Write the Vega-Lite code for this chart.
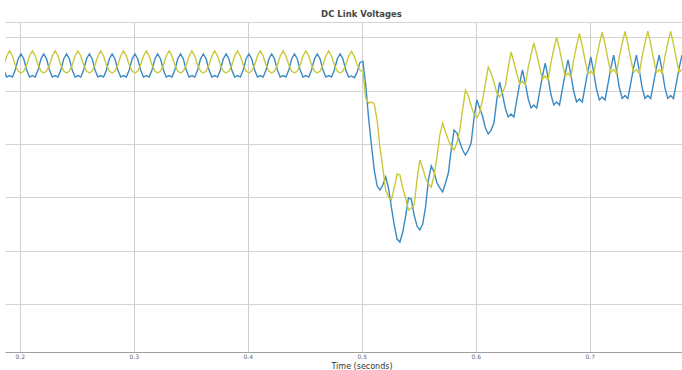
{
"$schema":"https://vega.github.io/schema/vega-lite/v6.json",
"width":677,"height":330,
"autosize":{"type":"none"},
"padding":{"left":5,"top":22,"right":0,"bottom":18},
"background":"white",
"title":{"text":"DC Link Voltages","font":"DejaVu Sans","fontSize":8.5,"fontWeight":"bold","color":"#444444","anchor":"middle","dx":18,"offset":4},
"config":{"view":{"stroke":null}},
"data":{"values":[
{"t":0.186,"Vdc1":669.4,"Vdc2":674.1},{"t":0.1885,"Vdc1":662.8,"Vdc2":682.5},
{"t":0.191,"Vdc1":664.2,"Vdc2":687.2},{"t":0.1935,"Vdc1":662.8,"Vdc2":682.5},{"t":0.196,"Vdc1":669.4,"Vdc2":674.1},{"t":0.1985,"Vdc1":679.7,"Vdc2":668.4},{"t":0.201,"Vdc1":684.4,"Vdc2":666.6},{"t":0.2035,"Vdc1":679.7,"Vdc2":668.4},{"t":0.206,"Vdc1":669.4,"Vdc2":674.1},{"t":0.2085,"Vdc1":662.8,"Vdc2":682.5},
{"t":0.211,"Vdc1":664.2,"Vdc2":687.2},{"t":0.2135,"Vdc1":662.8,"Vdc2":682.5},{"t":0.216,"Vdc1":669.4,"Vdc2":674.1},{"t":0.2185,"Vdc1":679.7,"Vdc2":668.4},{"t":0.221,"Vdc1":684.4,"Vdc2":666.6},{"t":0.2235,"Vdc1":679.7,"Vdc2":668.4},{"t":0.226,"Vdc1":669.4,"Vdc2":674.1},{"t":0.2285,"Vdc1":662.8,"Vdc2":682.5},
{"t":0.231,"Vdc1":664.2,"Vdc2":687.2},{"t":0.2335,"Vdc1":662.8,"Vdc2":682.5},{"t":0.236,"Vdc1":669.4,"Vdc2":674.1},{"t":0.2385,"Vdc1":679.7,"Vdc2":668.4},{"t":0.241,"Vdc1":684.4,"Vdc2":666.6},{"t":0.2435,"Vdc1":679.7,"Vdc2":668.4},{"t":0.246,"Vdc1":669.4,"Vdc2":674.1},{"t":0.2485,"Vdc1":662.8,"Vdc2":682.5},
{"t":0.251,"Vdc1":664.2,"Vdc2":687.2},{"t":0.2535,"Vdc1":662.8,"Vdc2":682.5},{"t":0.256,"Vdc1":669.4,"Vdc2":674.1},{"t":0.2585,"Vdc1":679.7,"Vdc2":668.4},{"t":0.261,"Vdc1":684.4,"Vdc2":666.6},{"t":0.2635,"Vdc1":679.7,"Vdc2":668.4},{"t":0.266,"Vdc1":669.4,"Vdc2":674.1},{"t":0.2685,"Vdc1":662.8,"Vdc2":682.5},
{"t":0.271,"Vdc1":664.2,"Vdc2":687.2},{"t":0.2735,"Vdc1":662.8,"Vdc2":682.5},{"t":0.276,"Vdc1":669.4,"Vdc2":674.1},{"t":0.2785,"Vdc1":679.7,"Vdc2":668.4},{"t":0.281,"Vdc1":684.4,"Vdc2":666.6},{"t":0.2835,"Vdc1":679.7,"Vdc2":668.4},{"t":0.286,"Vdc1":669.4,"Vdc2":674.1},{"t":0.2885,"Vdc1":662.8,"Vdc2":682.5},
{"t":0.291,"Vdc1":664.2,"Vdc2":687.2},{"t":0.2935,"Vdc1":662.8,"Vdc2":682.5},{"t":0.296,"Vdc1":669.4,"Vdc2":674.1},{"t":0.2985,"Vdc1":679.7,"Vdc2":668.4},{"t":0.301,"Vdc1":684.4,"Vdc2":666.6},{"t":0.3035,"Vdc1":679.7,"Vdc2":668.4},{"t":0.306,"Vdc1":669.4,"Vdc2":674.1},{"t":0.3085,"Vdc1":662.8,"Vdc2":682.5},
{"t":0.311,"Vdc1":664.2,"Vdc2":687.2},{"t":0.3135,"Vdc1":662.8,"Vdc2":682.5},{"t":0.316,"Vdc1":669.4,"Vdc2":674.1},{"t":0.3185,"Vdc1":679.7,"Vdc2":668.4},{"t":0.321,"Vdc1":684.4,"Vdc2":666.6},{"t":0.3235,"Vdc1":679.7,"Vdc2":668.4},{"t":0.326,"Vdc1":669.4,"Vdc2":674.1},{"t":0.3285,"Vdc1":662.8,"Vdc2":682.5},
{"t":0.331,"Vdc1":664.2,"Vdc2":687.2},{"t":0.3335,"Vdc1":662.8,"Vdc2":682.5},{"t":0.336,"Vdc1":669.4,"Vdc2":674.1},{"t":0.3385,"Vdc1":679.7,"Vdc2":668.4},{"t":0.341,"Vdc1":684.4,"Vdc2":666.6},{"t":0.3435,"Vdc1":679.7,"Vdc2":668.4},{"t":0.346,"Vdc1":669.4,"Vdc2":674.1},{"t":0.3485,"Vdc1":662.8,"Vdc2":682.5},
{"t":0.351,"Vdc1":664.2,"Vdc2":687.2},{"t":0.3535,"Vdc1":662.8,"Vdc2":682.5},{"t":0.356,"Vdc1":669.4,"Vdc2":674.1},{"t":0.3585,"Vdc1":679.7,"Vdc2":668.4},{"t":0.361,"Vdc1":684.4,"Vdc2":666.6},{"t":0.3635,"Vdc1":679.7,"Vdc2":668.4},{"t":0.366,"Vdc1":669.4,"Vdc2":674.1},{"t":0.3685,"Vdc1":662.8,"Vdc2":682.5},
{"t":0.371,"Vdc1":664.2,"Vdc2":687.2},{"t":0.3735,"Vdc1":662.8,"Vdc2":682.5},{"t":0.376,"Vdc1":669.4,"Vdc2":674.1},{"t":0.3785,"Vdc1":679.7,"Vdc2":668.4},{"t":0.381,"Vdc1":684.4,"Vdc2":666.6},{"t":0.3835,"Vdc1":679.7,"Vdc2":668.4},{"t":0.386,"Vdc1":669.4,"Vdc2":674.1},{"t":0.3885,"Vdc1":662.8,"Vdc2":682.5},
{"t":0.391,"Vdc1":664.2,"Vdc2":687.2},{"t":0.3935,"Vdc1":662.8,"Vdc2":682.5},{"t":0.396,"Vdc1":669.4,"Vdc2":674.1},{"t":0.3985,"Vdc1":679.7,"Vdc2":668.4},{"t":0.401,"Vdc1":684.4,"Vdc2":666.6},{"t":0.4035,"Vdc1":679.7,"Vdc2":668.4},{"t":0.406,"Vdc1":669.4,"Vdc2":674.1},{"t":0.4085,"Vdc1":662.8,"Vdc2":682.5},
{"t":0.411,"Vdc1":664.2,"Vdc2":687.2},{"t":0.4135,"Vdc1":662.8,"Vdc2":682.5},{"t":0.416,"Vdc1":669.4,"Vdc2":674.1},{"t":0.4185,"Vdc1":679.7,"Vdc2":668.4},{"t":0.421,"Vdc1":684.4,"Vdc2":666.6},{"t":0.4235,"Vdc1":679.7,"Vdc2":668.4},{"t":0.426,"Vdc1":669.4,"Vdc2":674.1},{"t":0.4285,"Vdc1":662.8,"Vdc2":682.5},
{"t":0.431,"Vdc1":664.2,"Vdc2":687.2},{"t":0.4335,"Vdc1":662.8,"Vdc2":682.5},{"t":0.436,"Vdc1":669.4,"Vdc2":674.1},{"t":0.4385,"Vdc1":679.7,"Vdc2":668.4},{"t":0.441,"Vdc1":684.4,"Vdc2":666.6},{"t":0.4435,"Vdc1":679.7,"Vdc2":668.4},{"t":0.446,"Vdc1":669.4,"Vdc2":674.1},{"t":0.4485,"Vdc1":662.8,"Vdc2":682.5},
{"t":0.451,"Vdc1":664.2,"Vdc2":687.2},{"t":0.4535,"Vdc1":662.8,"Vdc2":682.5},{"t":0.456,"Vdc1":669.4,"Vdc2":674.1},{"t":0.4585,"Vdc1":679.7,"Vdc2":668.4},{"t":0.461,"Vdc1":684.4,"Vdc2":666.6},{"t":0.4635,"Vdc1":679.7,"Vdc2":668.4},{"t":0.466,"Vdc1":669.4,"Vdc2":674.1},{"t":0.4685,"Vdc1":662.8,"Vdc2":682.5},
{"t":0.471,"Vdc1":664.2,"Vdc2":687.2},{"t":0.4735,"Vdc1":662.8,"Vdc2":682.5},{"t":0.476,"Vdc1":669.4,"Vdc2":674.1},{"t":0.4785,"Vdc1":679.7,"Vdc2":668.4},{"t":0.481,"Vdc1":684.4,"Vdc2":666.6},{"t":0.4835,"Vdc1":679.7,"Vdc2":668.4},{"t":0.486,"Vdc1":669.4,"Vdc2":674.1},{"t":0.4885,"Vdc1":662.8,"Vdc2":682.5},
{"t":0.491,"Vdc1":663.8,"Vdc2":686.8},{"t":0.4935,"Vdc1":662.2,"Vdc2":682},{"t":0.496,"Vdc1":667.5,"Vdc2":674.5},{"t":0.4985,"Vdc1":676.5,"Vdc2":669.4},{"t":0.501,"Vdc1":677.5,"Vdc2":667.5},{"t":0.5035,"Vdc1":655.3,"Vdc2":643.1},{"t":0.506,"Vdc1":624.4,"Vdc2":638.4},{"t":0.5085,"Vdc1":599.1,"Vdc2":639.4},
{"t":0.511,"Vdc1":575.6,"Vdc2":637.5},{"t":0.5135,"Vdc1":560.6,"Vdc2":622.5},{"t":0.516,"Vdc1":556.9,"Vdc2":596.3},{"t":0.5185,"Vdc1":561.6,"Vdc2":577.5},{"t":0.521,"Vdc1":569.1,"Vdc2":556.9},{"t":0.5235,"Vdc1":558.8,"Vdc2":550.3},{"t":0.526,"Vdc1":540.9,"Vdc2":547.5},{"t":0.5285,"Vdc1":524.1,"Vdc2":558.8},
{"t":0.531,"Vdc1":510.9,"Vdc2":571.9},{"t":0.5335,"Vdc1":508.1,"Vdc2":570.9},{"t":0.536,"Vdc1":517.5,"Vdc2":558.8},{"t":0.5385,"Vdc1":532.5,"Vdc2":549.4},{"t":0.541,"Vdc1":549.4,"Vdc2":538.1},{"t":0.5435,"Vdc1":548.4,"Vdc2":540},{"t":0.546,"Vdc1":533.4,"Vdc2":542.8},{"t":0.5485,"Vdc1":523.1,"Vdc2":566.3},
{"t":0.551,"Vdc1":519.4,"Vdc2":585},{"t":0.5535,"Vdc1":525,"Vdc2":577.5},{"t":0.556,"Vdc1":540.9,"Vdc2":568.1},{"t":0.5585,"Vdc1":566.3,"Vdc2":562.5},{"t":0.561,"Vdc1":579.4,"Vdc2":559.7},{"t":0.5635,"Vdc1":573.8,"Vdc2":570.9},{"t":0.566,"Vdc1":563.4,"Vdc2":587.8},{"t":0.5685,"Vdc1":558.8,"Vdc2":608.4},
{"t":0.571,"Vdc1":555,"Vdc2":619.7},{"t":0.5735,"Vdc1":563.4,"Vdc2":611.3},{"t":0.576,"Vdc1":572.8,"Vdc2":603.8},{"t":0.5785,"Vdc1":594.4,"Vdc2":598.1},{"t":0.581,"Vdc1":613.1,"Vdc2":594.4},{"t":0.5835,"Vdc1":610.3,"Vdc2":600.9},{"t":0.586,"Vdc1":601.9,"Vdc2":613.1},{"t":0.5885,"Vdc1":594.4,"Vdc2":631.9},
{"t":0.591,"Vdc1":589.7,"Vdc2":650.6},{"t":0.5935,"Vdc1":594.4,"Vdc2":645},{"t":0.596,"Vdc1":600.9,"Vdc2":635.6},{"t":0.5985,"Vdc1":624.4,"Vdc2":628.1},{"t":0.601,"Vdc1":641.3,"Vdc2":624.4},{"t":0.6035,"Vdc1":633.8,"Vdc2":630},{"t":0.606,"Vdc1":626.3,"Vdc2":641.3},{"t":0.6085,"Vdc1":615,"Vdc2":656.3},
{"t":0.611,"Vdc1":609.4,"Vdc2":672.2},{"t":0.6135,"Vdc1":613.1,"Vdc2":666.6},{"t":0.616,"Vdc1":619.7,"Vdc2":658.1},{"t":0.6185,"Vdc1":641.3,"Vdc2":647.8},{"t":0.621,"Vdc1":658.1,"Vdc2":644.1},{"t":0.6235,"Vdc1":646.6,"Vdc2":648.8},{"t":0.626,"Vdc1":633.5,"Vdc2":654.4},{"t":0.6285,"Vdc1":625.3,"Vdc2":671.3},
{"t":0.631,"Vdc1":628.1,"Vdc2":686.3},{"t":0.6335,"Vdc1":625.3,"Vdc2":676.9},{"t":0.636,"Vdc1":640.8,"Vdc2":666.1},{"t":0.6385,"Vdc1":656.3,"Vdc2":656.3},{"t":0.641,"Vdc1":669.4,"Vdc2":659.1},{"t":0.6435,"Vdc1":656.9,"Vdc2":655.3},{"t":0.646,"Vdc1":642.7,"Vdc2":671.1},{"t":0.6485,"Vdc1":633.8,"Vdc2":683.6},
{"t":0.651,"Vdc1":636.6,"Vdc2":694.7},{"t":0.6535,"Vdc1":633.8,"Vdc2":684.3},{"t":0.656,"Vdc1":648.5,"Vdc2":672.2},{"t":0.6585,"Vdc1":663.3,"Vdc2":660.9},{"t":0.661,"Vdc1":675.9,"Vdc2":663.8},{"t":0.6635,"Vdc1":662.2,"Vdc2":660},{"t":0.666,"Vdc1":646.4,"Vdc2":676.1},{"t":0.6685,"Vdc1":636.6,"Vdc2":689.1},
{"t":0.671,"Vdc1":639.4,"Vdc2":700.3},{"t":0.6735,"Vdc1":636.6,"Vdc2":689.1},{"t":0.676,"Vdc1":651.3,"Vdc2":675.9},{"t":0.6785,"Vdc1":666.1,"Vdc2":663.8},{"t":0.681,"Vdc1":678.8,"Vdc2":666.6},{"t":0.6835,"Vdc1":665,"Vdc2":662.8},{"t":0.686,"Vdc1":649.2,"Vdc2":679.1},{"t":0.6885,"Vdc1":639.4,"Vdc2":692.2},
{"t":0.691,"Vdc1":642.2,"Vdc2":703.6},{"t":0.6935,"Vdc1":639.4,"Vdc2":691.9},{"t":0.696,"Vdc1":654.1,"Vdc2":678.3},{"t":0.6985,"Vdc1":668.9,"Vdc2":665.6},{"t":0.701,"Vdc1":681.6,"Vdc2":668.4},{"t":0.7035,"Vdc1":667.5,"Vdc2":664.7},{"t":0.706,"Vdc1":651.3,"Vdc2":680.8},{"t":0.7085,"Vdc1":641.3,"Vdc2":693.8},
{"t":0.711,"Vdc1":644.1,"Vdc2":705},{"t":0.7135,"Vdc1":641.3,"Vdc2":693.3},{"t":0.716,"Vdc1":656,"Vdc2":679.7},{"t":0.7185,"Vdc1":670.8,"Vdc2":667},{"t":0.721,"Vdc1":683.4,"Vdc2":669.8},{"t":0.7235,"Vdc1":669.2,"Vdc2":666.1},{"t":0.726,"Vdc1":652.9,"Vdc2":681.8},{"t":0.7285,"Vdc1":642.7,"Vdc2":694.4},
{"t":0.731,"Vdc1":645.5,"Vdc2":705.5},{"t":0.7335,"Vdc1":642.7,"Vdc2":693.8},{"t":0.736,"Vdc1":656.9,"Vdc2":679.9},{"t":0.7385,"Vdc1":671.3,"Vdc2":667},{"t":0.741,"Vdc1":683.4,"Vdc2":669.8},{"t":0.7435,"Vdc1":669.2,"Vdc2":666.1},{"t":0.746,"Vdc1":652.9,"Vdc2":682},{"t":0.7485,"Vdc1":642.7,"Vdc2":694.8},
{"t":0.751,"Vdc1":645.5,"Vdc2":705.9},{"t":0.7535,"Vdc1":642.7,"Vdc2":693.9},{"t":0.756,"Vdc1":656.9,"Vdc2":680.1},{"t":0.7585,"Vdc1":671.3,"Vdc2":667},{"t":0.761,"Vdc1":683.4,"Vdc2":669.8},{"t":0.7635,"Vdc1":669.2,"Vdc2":666.1},{"t":0.766,"Vdc1":652.9,"Vdc2":681.8},{"t":0.7685,"Vdc1":642.7,"Vdc2":694.4},
{"t":0.771,"Vdc1":645.5,"Vdc2":705.5},{"t":0.7735,"Vdc1":642.7,"Vdc2":693.8},{"t":0.776,"Vdc1":656.9,"Vdc2":679.9},{"t":0.7785,"Vdc1":671.3,"Vdc2":667},{"t":0.781,"Vdc1":683.4,"Vdc2":669.8},{"t":0.7835,"Vdc1":669.2,"Vdc2":666.1}
]},
"transform":[{"fold":["Vdc1","Vdc2"],"as":["series","v"]}],
"mark":{"type":"line","strokeWidth":1.4,"clip":true},
"encoding":{
"x":{"field":"t","type":"quantitative","scale":{"domain":[0.187,0.781],"nice":false,"zero":false},
"axis":{"values":[0.2,0.3,0.4,0.5,0.6,0.7],"format":".1f","title":"Time (seconds)","grid":true,"gridColor":"#cfcfcf","gridWidth":1,"domainColor":"#a0a0a0","tickSize":0,"labelFont":"DejaVu Sans","labelFontSize":6,"labelColor":"#666666","labelPadding":1.5,"titleFont":"DejaVu Sans","titleFontSize":8,"titleFontWeight":"normal","titleColor":"#333333","titleX":356.5,"titleY":14.5,"titleBaseline":"middle","titleAlign":"center"}},
"y":{"field":"v","type":"quantitative","scale":{"domain":[405,714.4],"nice":false,"zero":false},
"axis":{"values":[450,500,550,600,650,700,714.4],"labels":false,"ticks":false,"domain":false,"title":null,"grid":true,"gridColor":"#d4d4d4","gridWidth":1}},
"color":{"field":"series","type":"nominal","scale":{"domain":["Vdc1","Vdc2"],"range":["#3a8ac4","#c9c93a"]},"legend":null}
}
}
